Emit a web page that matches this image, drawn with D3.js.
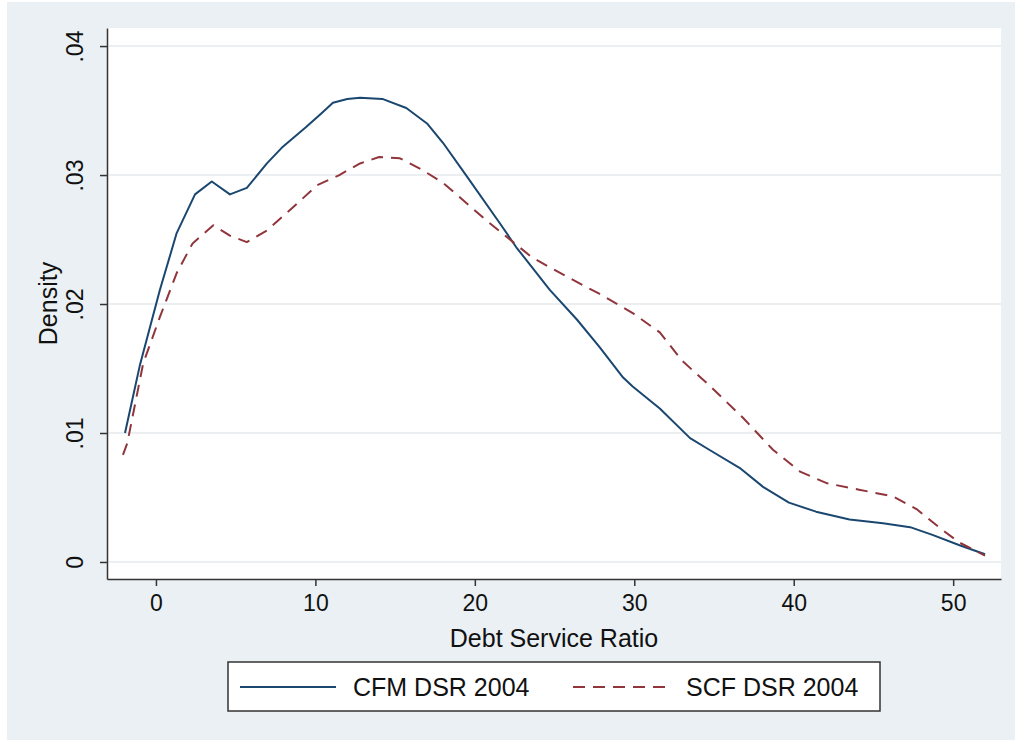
<!DOCTYPE html>
<html>
<head>
<meta charset="utf-8">
<script src="https://cdn.jsdelivr.net/npm/d3@7"></script>
<style>
    body { margin: 0; background: #fff; }
    text { font-family: "Liberation Sans", Arial, sans-serif; fill: #111; }
</style>
</head>
<body>
<div id="box-div"></div>
<script>
// Debt service ratio (x) and kernel density values
const cfmX = [-1.94, -1, 0.25, 1.3, 2.45, 3.5, 4.64, 5.7, 6.96, 7.96, 9.4, 10.3, 11.1, 12.0, 12.8, 14.2, 15.7, 17.0, 18.0, 19.5,
    21.6, 22.6, 24.7, 26.4, 27.8, 29.3, 29.9, 31.6, 33.5, 34.7, 36.6, 38.1, 39.7, 41.4, 43.5, 45.6, 47.3, 48.7, 50.4, 52.0]
const cfmY = [0.0100, 0.0153, 0.0211, 0.0255, 0.0285, 0.0295, 0.0285, 0.0290, 0.0309, 0.0322, 0.0337, 0.0347, 0.0356, 0.0359, 0.0360,
    0.0359, 0.0352, 0.0340, 0.0325, 0.0299, 0.0262, 0.0244, 0.0211, 0.0188, 0.0167, 0.0143, 0.0136, 0.0119, 0.0096,
    0.0087, 0.0073, 0.0058, 0.0046, 0.0039, 0.0033, 0.0030, 0.0027, 0.0021, 0.0013, 0.0006]

const scfX = [-2.07, -1.8, -0.8, 0.25, 1.3, 2.3, 3.6, 4.64, 5.7, 6.96, 8.6, 10.1, 11.5, 12.8, 14.0, 15.3, 16.7, 18.0,
    19.5, 20.7, 22.2, 23.6, 25.8, 27.8, 29.9, 31.6, 33.0, 34.7, 36.8, 38.7, 40.4, 42.1, 44.1, 46.2, 47.7, 49.2, 50.4, 52.0]
const scfY = [0.0083, 0.0092, 0.0154, 0.0190, 0.0224, 0.0247, 0.0261, 0.0253, 0.0248, 0.0257, 0.0275, 0.0292, 0.0300,
    0.0309, 0.0314, 0.0313, 0.0304, 0.0294, 0.0278, 0.0265, 0.0250, 0.0236, 0.0221, 0.0208, 0.0193, 0.0178, 0.0156,
    0.0137, 0.0112, 0.0087, 0.0070, 0.0061, 0.0056, 0.0051, 0.0041, 0.0026, 0.0015, 0.0005]

const xTicks = [0, 10, 20, 30, 40, 50]
const yTicks = [0, 0.01, 0.02, 0.03, 0.04]
const seriesNames = ['CFM DSR 2004', 'SCF DSR 2004']
const seriesColors = ['#1a476f', '#90353b']

let dms = {
    width: 1015,
    height: 740,
    plot: { left: 107, right: 1001, top: 28, bottom: 579 }
}

const svg = d3.select('#box-div').append('svg')
    .attr('width', dms.width)
    .attr('height', dms.height)

// 背景
svg.append('rect')
    .attr('x', 7).attr('y', 2)
    .attr('width', dms.width - 7).attr('height', dms.height - 2)
    .attr('fill', '#eaf0f3')

svg.append('rect')
    .attr('x', dms.plot.left).attr('y', dms.plot.top)
    .attr('width', dms.plot.right - dms.plot.left)
    .attr('height', dms.plot.bottom - dms.plot.top)
    .attr('fill', '#ffffff')

// 比例尺
const xScale = d3.scaleLinear()
    .domain([-3.07, 53.0])
    .range([dms.plot.left, dms.plot.right])
const yScale = d3.scaleLinear()
    .domain([-0.00132, 0.0414])
    .range([dms.plot.bottom, dms.plot.top])

// 网格线
svg.append('g').selectAll('line')
    .data(yTicks)
    .enter()
    .append('line')
    .attr('x1', dms.plot.left + 2)
    .attr('x2', dms.plot.right)
    .attr('y1', d => yScale(d))
    .attr('y2', d => yScale(d))
    .attr('stroke', '#e6eaec')
    .attr('stroke-width', 1.5)

// x轴
const xAxis = d3.axisBottom(xScale)
    .tickValues(xTicks)
    .tickSize(7)
    .tickSizeOuter(0)
    .tickPadding(9)
const gx = svg.append('g')
    .attr('transform', `translate(0, ${dms.plot.bottom})`)
    .call(xAxis)
gx.selectAll('text').style('font-size', '23px').attr('fill', '#111')

// y轴
const yAxis = d3.axisLeft(yScale)
    .tickValues(yTicks)
    .tickSize(7)
    .tickSizeOuter(0)
    .tickFormat(d => d === 0 ? '0' : d3.format('.2f')(d).replace(/^0/, ''))
const gy = svg.append('g')
    .attr('transform', `translate(${dms.plot.left}, 0)`)
    .call(yAxis)
gy.selectAll('text')
    .attr('x', null).attr('dy', null)
    .attr('text-anchor', 'middle')
    .attr('transform', 'translate(-24, 0) rotate(-90)')
    .style('font-size', '23px')
    .attr('fill', '#111')

svg.selectAll('.domain, .tick line')
    .attr('stroke', '#333')
    .attr('stroke-width', 1.5)

// 轴标题
svg.append('text')
    .attr('x', (dms.plot.left + dms.plot.right) / 2)
    .attr('y', 647)
    .attr('text-anchor', 'middle')
    .style('font-size', '25px')
    .text('Debt Service Ratio')
svg.append('text')
    .attr('transform', `translate(57, ${(dms.plot.top + dms.plot.bottom) / 2}) rotate(-90)`)
    .attr('text-anchor', 'middle')
    .style('font-size', '25px')
    .text('Density')

// 曲线
const line = d3.line()
    .x(d => xScale(d[0]))
    .y(d => yScale(d[1]))

const series = [
    { name: seriesNames[0], pts: d3.zip(cfmX, cfmY), color: seriesColors[0], dash: null },
    { name: seriesNames[1], pts: d3.zip(scfX, scfY), color: seriesColors[1], dash: '12 8' }
]

svg.append('g').selectAll('path')
    .data(series)
    .enter()
    .append('path')
    .attr('d', d => line(d.pts))
    .attr('fill', 'none')
    .attr('stroke', d => d.color)
    .attr('stroke-width', 2)
    .attr('stroke-linejoin', 'round')
    .attr('stroke-dasharray', d => d.dash)

// 图例
const legendArea = svg.append('g').attr('id', 'legend')
legendArea.append('rect')
    .attr('x', 228).attr('y', 662)
    .attr('width', 652).attr('height', 49)
    .attr('fill', '#fff')
    .attr('stroke', '#333')
    .attr('stroke-width', 1.5)

const legend = legendArea.selectAll('.legend')
    .data(series)
    .enter()
    .append('g')
    .attr('class', 'legend')
    .attr('transform', (d, i) => `translate(${240 + i * 333}, 0)`)

legend.append('line')
    .attr('x1', 0).attr('x2', 96)
    .attr('y1', 687).attr('y2', 687)
    .attr('stroke', d => d.color)
    .attr('stroke-width', 2)
    .attr('stroke-dasharray', d => d.dash)

legend.append('text')
    .attr('x', 113)
    .attr('y', 696)
    .style('font-size', '25px')
    .text(d => d.name)
</script>
</body>
</html>
